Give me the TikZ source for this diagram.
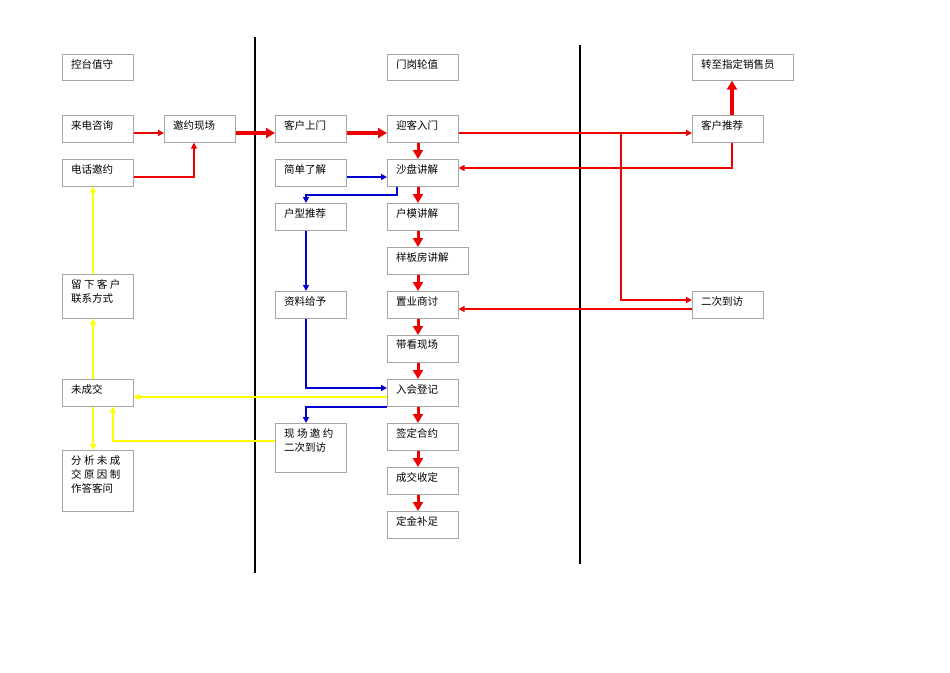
\documentclass[tikz,border=0pt]{standalone}
\usepackage{fontspec}
\newfontfamily\cjk{Noto Sans CJK SC}
\usetikzlibrary{arrows.meta}
\definecolor{flowred}{RGB}{238,0,0}
\definecolor{flowblue}{RGB}{0,0,210}
\definecolor{flowyel}{RGB}{255,255,0}
\tikzset{
  box/.style={draw=black!35,line width=0.6pt,anchor=north west,inner sep=0pt},
  txt/.style={anchor=north west,inner sep=0pt,font=\cjk\fontsize{10.5}{14}\selectfont,align=left},
  red/.style={draw=flowred,line width=1.8pt,-{Triangle[length=6pt,width=6pt]}},
  fat/.style={draw=flowred,line width=3.5pt,-{Triangle[length=9pt,width=10pt]}},
  blu/.style={draw=flowblue,line width=1.8pt,-{Triangle[length=6pt,width=6pt]}},
  yel/.style={draw=flowyel,line width=1.8pt,-{Triangle[length=6pt,width=6pt]}}
}
% box: name, left, top, width, height, text
\newcommand{\bx}[6]{%
  \node[box,minimum width=#4pt,minimum height=#5pt] (#1) at (#2,#3) {};
  \node[txt] at (#2+9,#3+5) {#6};}
\begin{document}
\begin{tikzpicture}[x=1pt,y=-1pt]
\useasboundingbox (0,0) rectangle (950,672);
%Dividers
\draw[line width=2.5pt] (255,37) -- (255,573);
\draw[line width=2.5pt] (580,45) -- (580,564);

%Left column
\bx{kongtai}{62}{54}{71}{26}{控台值守}
\bx{laidian}{62}{115}{71}{27}{来电咨询}
\bx{dianhua}{62}{159}{71}{27}{电话邀约}
\bx{liuxia}{62}{274}{71}{44}{留 下 客 户\\联系方式}
\bx{weicj}{62}{379}{71}{27}{未成交}
\bx{fenxi}{62}{450}{71}{61}{分 析 未 成\\交 原 因 制\\作答客问}
\bx{yaoyue}{164}{115}{71}{27}{邀约现场}

%Middle left column
\bx{shangmen}{275}{115}{71}{27}{客户上门}
\bx{jiandan}{275}{159}{71}{27}{简单了解}
\bx{huxing}{275}{203}{71}{27}{户型推荐}
\bx{ziliao}{275}{291}{71}{27}{资料给予}
\bx{xianchang}{275}{423}{71}{49}{现 场 邀 约\\二次到访}

%Main column
\bx{menggang}{387}{54}{71}{26}{门岗轮值}
\bx{yingke}{387}{115}{71}{27}{迎客入门}
\bx{shapan}{387}{159}{71}{27}{沙盘讲解}
\bx{humo}{387}{203}{71}{27}{户模讲解}
\bx{yangban}{387}{247}{81}{27}{样板房讲解}
\bx{zhiye}{387}{291}{71}{27}{置业商讨}
\bx{daikan}{387}{335}{71}{27}{带看现场}
\bx{ruhui}{387}{379}{71}{27}{入会登记}
\bx{qianding}{387}{423}{71}{27}{签定合约}
\bx{chengjiao}{387}{467}{71}{27}{成交收定}
\bx{dingjin}{387}{511}{71}{27}{定金补足}

%Right column
\bx{zhuanzhi}{692}{54}{101}{26}{转至指定销售员}
\bx{tuijian}{692}{115}{71}{27}{客户推荐}
\bx{erci}{692}{291}{71}{27}{二次到访}

%Red flow
\draw[red] (laidian.east|-0,133) -- (yaoyue.west|-0,133);
\draw[red] (dianhua.east|-0,177) -| (yaoyue.south-|194,0);
\draw[fat] (yaoyue.east|-0,133) -- (shangmen.west|-0,133);
\draw[fat] (shangmen.east|-0,133) -- (yingke.west|-0,133);
\draw[red] (yingke.east|-0,133) -- (tuijian.west|-0,133);
\coordinate (split) at (621,133);
\draw[red] (split) |- (erci.west|-0,300);
\draw[red] (tuijian.south-|732,0) |- (shapan.east|-0,168);
\draw[fat] (tuijian.north-|732,0) -- (zhuanzhi.south-|732,0);
\draw[red] (erci.west|-0,309) -- (zhiye.east|-0,309);
\foreach \a/\b in {yingke/shapan,shapan/humo,humo/yangban,yangban/zhiye,zhiye/daikan,daikan/ruhui,ruhui/qianding,qianding/chengjiao,chengjiao/dingjin}
  \draw[fat,line width=3pt] (\a.south-|418,0) -- (\b.north-|418,0);

%Blue flow
\draw[blu] (jiandan.east|-0,177) -- (shapan.west|-0,177);
\draw[blu] (shapan.south-|397,0) |- (306,195) -- (huxing.north-|306,0);
\draw[blu] (huxing.south-|306,0) -- (ziliao.north-|306,0);
\draw[blu] (ziliao.south-|306,0) |- (ruhui.west|-0,388);
\draw[blu] (ruhui.south west) -| (xianchang.north-|306,0);

%Yellow flow
\draw[yel] (ruhui.west|-0,397) -- (weicj.east|-0,397);
\draw[yel] (xianchang.west|-0,441) -| (weicj.south-|113,0);
\draw[yel] (weicj.north-|93,0) -- (liuxia.south-|93,0);
\draw[yel] (liuxia.north-|93,0) -- (dianhua.south-|93,0);
\draw[yel] (weicj.south-|93,0) -- (fenxi.north-|93,0);
\end{tikzpicture}
\end{document}
